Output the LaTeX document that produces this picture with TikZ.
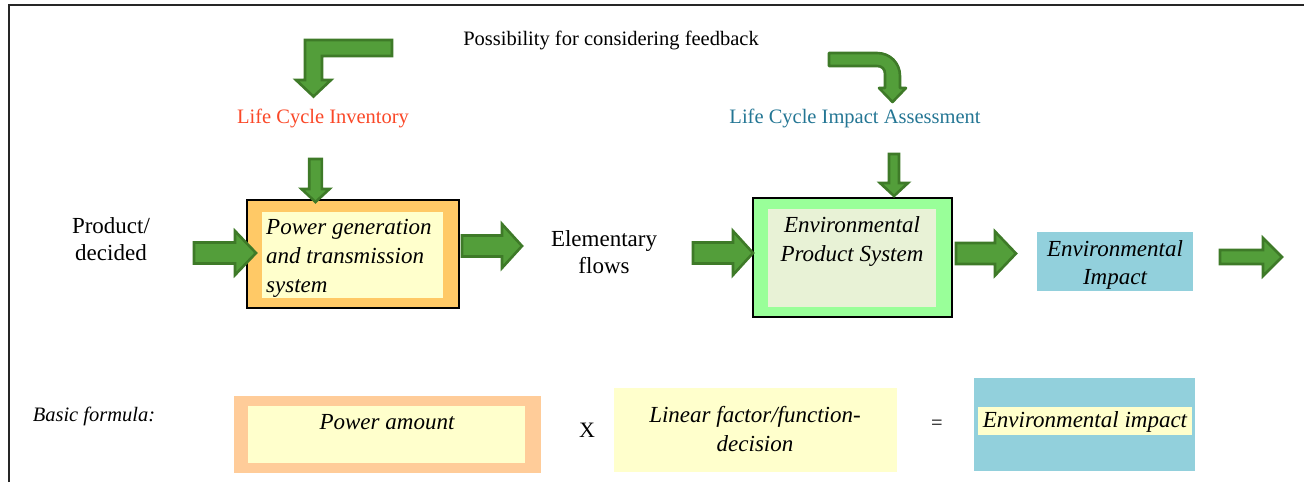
\documentclass[tikz,border=0pt]{standalone}
\usepackage{fontspec}
\setmainfont{Liberation Serif}
\definecolor{afill}{RGB}{83,158,58}
\definecolor{aedge}{RGB}{62,122,40}
\definecolor{lcired}{RGB}{250,72,40}
\definecolor{lciablue}{RGB}{36,118,148}
\definecolor{orng}{RGB}{255,201,102}
\definecolor{ltyel}{RGB}{255,255,204}
\definecolor{ltgreen}{RGB}{153,255,153}
\definecolor{paleg}{RGB}{232,242,214}
\definecolor{teal}{RGB}{146,208,220}
\definecolor{peach}{RGB}{255,204,153}
\tikzset{
  garrow/.style={fill=afill,draw=aedge,line width=2.6pt,line join=miter,miter limit=6},
  frameline/.style={draw=black!85,line width=2pt},
  txt/.style={inner sep=0pt,font=\fontsize{20.5}{24}\selectfont},
  txtb/.style={inner sep=0pt,align=center,font=\fontsize{23}{27}\selectfont},
  boxtxt/.style={inner sep=0pt,font=\itshape\fontsize{23}{29}\selectfont},
  plainbox/.style={inner sep=0pt,draw=none},
}
\newcommand{\blkR}[6]{\draw[garrow] (#1,#4-#5) -- (#2,#4-#5) -- (#2,#4-#6) -- (#3,#4) -- (#2,#4+#6) -- (#2,#4+#5) -- (#1,#4+#5) -- cycle;}
\newcommand{\blkD}[6]{\draw[garrow] (#1-#5,#2) -- (#1+#5,#2) -- (#1+#5,#3) -- (#1+#6,#3) -- (#1,#4) -- (#1-#6,#3) -- (#1-#5,#3) -- cycle;}
\begin{document}
\begin{tikzpicture}[x=1pt,y=-1pt]
\useasboundingbox (0,0) rectangle (1304,482);
\draw[frameline] (9,482) -- (9,5) -- (1304,5);

% top texts
\node[txt] (fb) at (611,40) {Possibility for considering feedback};
\node[txt,text=lcired] (lci) at (323,118) {Life Cycle Inventory};
\node[txt,text=lciablue] (lcia) at (855,118) {Life Cycle Impact Assessment};

% bent arrows
\draw[garrow] (392,40) -- (392,56) -- (322,56) -- (322,80) -- (331,80) -- (313.5,96.5) -- (296,80) -- (305,80) -- (305,40) -- cycle;
\draw[garrow,line join=round] (829,53) -- (877,53) .. controls (890,53) and (900,63) .. (900,76) -- (900,88) -- (906,88) -- (892.5,102) -- (879,88) -- (885,88) -- (885,74) .. controls (885,69) and (882,66) .. (877,66) -- (829,66) -- cycle;

% left text
\node[txtb] (prod) at (111,239) {Product/\\decided};

% box 1
\node[plainbox,draw=black,line width=1.5pt,fill=orng,minimum width=212pt,minimum height=108pt] (b1) at (353,254) {};
\node[plainbox,fill=ltyel,minimum width=181pt,minimum height=86pt] (b1in) at (352.5,255) {};
\node[boxtxt,align=left,anchor=west] (b1t) at (266,258) {Power generation\\and transmission\\system};

% elementary flows
\node[txtb] (elem) at (604,252) {Elementary\\flows};

% box 2
\node[plainbox,draw=black,line width=1.5pt,fill=ltgreen,minimum width=199pt,minimum height=119pt] (b2) at (852.5,257.5) {};
\node[plainbox,fill=paleg,minimum width=168pt,minimum height=98pt] (b2in) at (852,258) {};
\node[boxtxt,align=center] (b2t) at (852,241.5) {Environmental\\Product System};

% environmental impact
\node[plainbox,fill=teal,minimum width=156pt,minimum height=59pt] (ei) at (1115,261.5) {};
\node[boxtxt,align=center,font=\itshape\fontsize{23}{28}\selectfont] (eit) at (1115,264.5) {Environmental\\Impact};

% arrows
\blkD{315.5}{159}{189}{202}{6.3}{14}
\blkD{894}{154}{183}{196}{5}{14}
\blkR{194}{235}{256}{253}{10.5}{22}
\blkR{462}{502}{522}{246}{10.5}{22}
\blkR{693}{733}{753}{253}{10.5}{22}
\blkR{956}{995}{1016}{253.5}{10.5}{22}
\blkR{1220}{1263}{1282}{257}{7}{19}

% basic formula row
\node[boxtxt,font=\itshape\fontsize{20.5}{24}\selectfont] (bf) at (94,416) {Basic formula:};
\node[plainbox,fill=peach,minimum width=307pt,minimum height=77pt] (pa) at (387.5,434.5) {};
\node[plainbox,fill=ltyel,minimum width=277pt,minimum height=57pt] (pain) at (386.5,434.5) {};
\node[boxtxt] (pat) at (387,422) {Power amount};
\node[txt,font=\fontsize{22}{26}\selectfont] (times) at (587,430) {X};
\node[plainbox,fill=ltyel,minimum width=283pt,minimum height=84pt] (lf) at (755.5,430) {};
\node[boxtxt,align=center] (lft) at (755,429) {Linear factor/function-\\decision};
\node[txt] (eq) at (937,425) {=};
\node[plainbox,fill=teal,minimum width=221pt,minimum height=93pt] (eib) at (1084.5,424.5) {};
\node[plainbox,fill=ltyel,minimum width=214pt,minimum height=28pt] (eibh) at (1085,421) {};
\node[boxtxt] (eibt) at (1085,422) {Environmental impact};
\end{tikzpicture}
\end{document}
